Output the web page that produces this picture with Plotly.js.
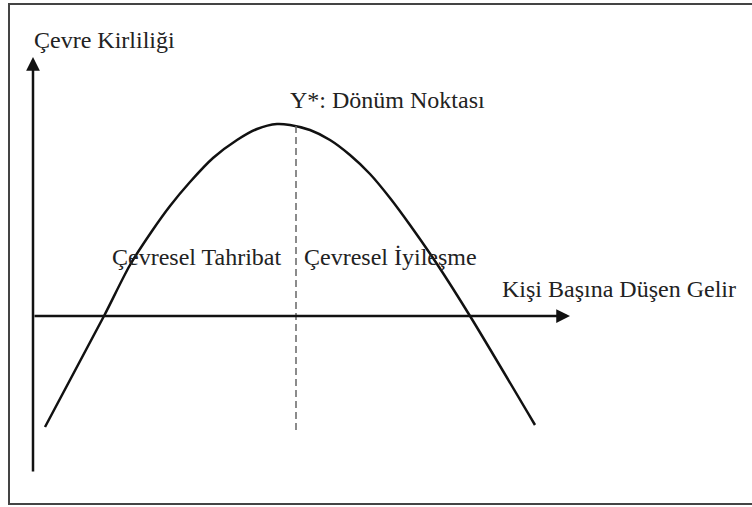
<!DOCTYPE html>
<html>
<head>
<meta charset="utf-8">
<script src="https://cdn.plot.ly/plotly-3.0.1.min.js"></script>
<style>html,body{margin:0;padding:0;background:#fff;}#chart{width:752px;height:507px;}</style>
</head>
<body>
<div id="chart"></div>
<script>
// Environmental Kuznets curve (origin at axes crossing)
const incomeX = [12, 71, 97, 119, 137, 157, 180, 204, 224, 244, 257, 277, 297, 317, 337, 357, 377, 404, 437, 502];
const pollutionY = [-111, 0, 51, 85, 110, 134, 158, 176, 187, 192, 191, 186, 176, 161, 142, 118, 91, 52, 0, -109];
const turningX = [263, 263];
const turningY = [190, -114];
const yAxisX = [0, 0];
const yAxisY = [-157, 259];
const xAxisX = [0, 537];
const xAxisY = [0, 0];
const labelYTitle = "Çevre Kirliliği";
const labelXTitle = "Kişi Başına Düşen Gelir";
const labelTurning = "Y*: Dönüm Noktası";
const labelLeft = "Çevresel Tahribat";
const labelRight = "Çevresel İyileşme";

function txtFont() { return {family: "Liberation Serif", size: 24, color: "#222"}; }

const traces = [
  {x: incomeX, y: pollutionY, mode: "lines", line: {color: "#111", width: 2.5, shape: "spline", smoothing: 0.8}, hoverinfo: "skip"},
  {x: turningX, y: turningY, mode: "lines", line: {color: "#666", width: 1.5, dash: "7px,4px"}, hoverinfo: "skip"}
];

const annotations = [
  {x: yAxisX[1], y: yAxisY[1], ax: yAxisX[0], ay: yAxisY[0], axref: "x", ayref: "y", xref: "x", yref: "y",
   showarrow: true, arrowhead: 2, arrowsize: 1.1, arrowwidth: 2.5, arrowcolor: "#111", text: ""},
  {x: xAxisX[1], y: xAxisY[1], ax: xAxisX[0], ay: xAxisY[0], axref: "x", ayref: "y", xref: "x", yref: "y",
   showarrow: true, arrowhead: 2, arrowsize: 1.1, arrowwidth: 2.5, arrowcolor: "#111", text: ""},
  {x: -1, y: 276, xref: "x", yref: "y", text: labelYTitle, showarrow: false, xanchor: "left", yanchor: "middle", font: txtFont()},
  {x: 255, y: 216, xref: "x", yref: "y", text: labelTurning, showarrow: false, xanchor: "left", yanchor: "middle", font: txtFont()},
  {x: 77, y: 59, xref: "x", yref: "y", text: labelLeft, showarrow: false, xanchor: "left", yanchor: "middle", font: txtFont()},
  {x: 269, y: 59, xref: "x", yref: "y", text: labelRight, showarrow: false, xanchor: "left", yanchor: "middle", font: txtFont()},
  {x: 467, y: 27, xref: "x", yref: "y", text: labelXTitle, showarrow: false, xanchor: "left", yanchor: "middle", font: txtFont()}
];

const layout = {
  width: 752, height: 507,
  margin: {l: 0, r: 0, t: 0, b: 0},
  paper_bgcolor: "#fff", plot_bgcolor: "#fff",
  showlegend: false,
  xaxis: {range: [-33, 719], visible: false, fixedrange: true},
  yaxis: {range: [-191, 316], visible: false, fixedrange: true},
  shapes: [
    {type: "rect", xref: "x", yref: "y", x0: -24, x1: 745, y0: 312, y1: -188,
     line: {color: "#444", width: 2}, fillcolor: "rgba(0,0,0,0)", layer: "below"}
  ],
  annotations: annotations
};

Plotly.newPlot("chart", traces, layout, {staticPlot: true, displayModeBar: false});
</script>
</body>
</html>
